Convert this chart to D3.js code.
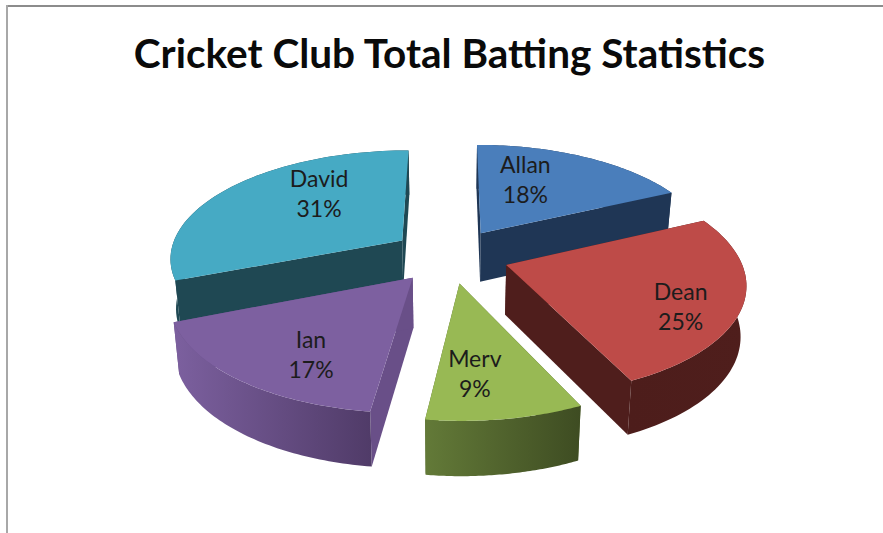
<!DOCTYPE html>
<html>
<head>
<meta charset="utf-8">
<script src="https://cdn.jsdelivr.net/npm/d3@7/dist/d3.min.js"></script>
<style>
html,body{margin:0;padding:0;background:#fff}
svg{display:block}
text{font-family:Lato,"Open Sans",sans-serif}
</style>
</head>
<body>
<svg id="chart" width="883" height="533"></svg>
<script>
// Batting share per player, clockwise from the top of the pie
const players = ["Allan", "Dean", "Merv", "Ian", "David"];
const shares = [18, 25, 9, 17, 31];
const topColors = ["#4a7ebb", "#be4b48", "#98b954", "#7d60a0", "#46aac4"];
const radialWallColors = ["#1f3655", "#4f1e1c", "#4f6228", "#694f88", "#1f4853"];
const outerWallLeft = ["#1f3655", "#4d1d1b", "#637a38", "#7c609f", "#1f4853"];
const outerWallRight = ["#1f3655", "#4f1e1c", "#3e4c22", "#503b68", "#1f4853"];
const chartTitle = "Cricket Club Total Batting Statistics";

// Label placement around each wedge tip: angle shift (radians) and ground radius
const labelShift = [-0.183, 0.145, 0.082, -0.125, 0.266];
const labelRadius = [140, 181, 164, 168, 145];

// Ground-plane pie and its perspective camera
const centerX = 450, centerY = 255.5;
const radius = 233, explode = 59, thickness = 49.5;
const tilt = 0.462, perspective = 0.00064, thicknessGrowth = 0.0004, depthShrink = 0.0004;

const project = (u, v, z) => {
  const s = (1 - depthShrink * z) / (1 - perspective * v);
  return [
    centerX + u * s,
    centerY + tilt * v * s / (1 - depthShrink * z) + z * (1 + thicknessGrowth * v)
  ];
};

const svg = d3.select("#chart");
const defs = svg.append("defs");
const startAt = 0.001;
const pie = d3.pie().sort(null)
  .startAngle(startAt).endAngle(startAt + 2 * Math.PI);
const arcs = pie(shares);
const toPath = d3.line();

// Painter's order: the far wedges first so nearer ones overlap them
const paintOrder = [0, 4, 1, 3, 2];

paintOrder.forEach(i => {
  const a = arcs[i];
  const mid = (a.startAngle + a.endAngle) / 2;
  const ox = explode * Math.sin(mid), oy = -explode * Math.cos(mid);
  const rim = d3.range(0, 61).map(j =>
    a.startAngle + (a.endAngle - a.startAngle) * j / 60);
  const polar = (ang, r) => [ox + r * Math.sin(ang), oy - r * Math.cos(ang)];
  const top = ([u, v]) => project(u, v, 0);
  const low = ([u, v]) => project(u, v, thickness);

  const g = svg.append("g").attr("class", "wedge");

  const tip = polar(0, 0);
  const first = polar(a.startAngle, radius);
  const last = polar(a.endAngle, radius);
  [first, last].forEach(edge => {
    g.append("path")
      .attr("d", toPath([top(tip), top(edge), low(edge), low(tip)]) + "Z")
      .attr("fill", radialWallColors[i]);
  });

  const gradId = "wall" + i;
  const grad = defs.append("linearGradient").attr("id", gradId)
    .attr("x1", 0).attr("x2", 1).attr("y1", 0).attr("y2", 0);
  grad.append("stop").attr("offset", 0).attr("stop-color", outerWallLeft[i]);
  grad.append("stop").attr("offset", 1).attr("stop-color", outerWallRight[i]);

  const rimPts = rim.map(ang => polar(ang, radius));
  g.append("path")
    .attr("d", toPath(rimPts.map(top).concat(rimPts.slice().reverse().map(low))) + "Z")
    .attr("fill", `url(#${gradId})`);

  g.append("path")
    .attr("d", toPath([top(tip)].concat(rimPts.map(top))) + "Z")
    .attr("fill", topColors[i]);
});

// Data labels: name above percentage
const labels = svg.append("g").attr("class", "labels");
arcs.forEach((a, i) => {
  const mid = (a.startAngle + a.endAngle) / 2;
  const ox = explode * Math.sin(mid), oy = -explode * Math.cos(mid);
  const ang = mid + labelShift[i];
  const [x, y] = project(ox + labelRadius[i] * Math.sin(ang), oy - labelRadius[i] * Math.cos(ang), 0);
  const t = labels.append("text")
    .attr("x", x).attr("y", y - 8)
    .attr("text-anchor", "middle")
    .attr("font-size", 23).attr("fill", "#1c1c1c");
  t.append("tspan").attr("x", x).text(players[i]);
  t.append("tspan").attr("x", x).attr("dy", 30).text(shares[i] + "%");
});

svg.append("text")
  .attr("x", 449.5).attr("y", 68)
  .attr("text-anchor", "middle")
  .attr("font-size", 40.5).attr("font-weight", 700).attr("fill", "#0a0a0a")
  .text(chartTitle);

// Chart area frame along the top and left
svg.append("line").attr("x1", 6).attr("x2", 883).attr("y1", 6).attr("y2", 6)
  .attr("stroke", "#8c8c8c").attr("stroke-width", 2);
svg.append("line").attr("x1", 7).attr("x2", 7).attr("y1", 5).attr("y2", 533)
  .attr("stroke", "#a8a8a8").attr("stroke-width", 2);
</script>
</body>
</html>
